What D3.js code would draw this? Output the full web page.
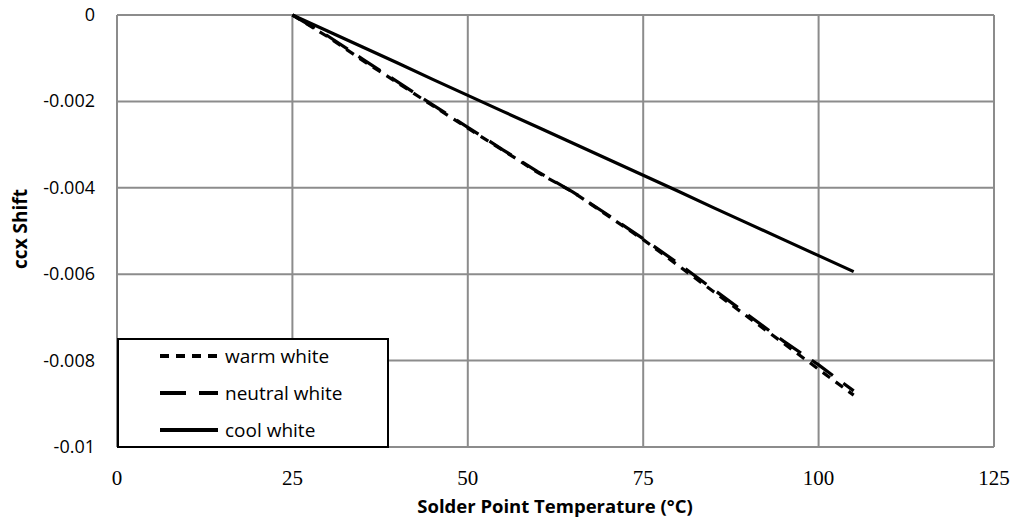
<!DOCTYPE html>
<html>
<head>
<meta charset="utf-8">
<script src="https://cdn.jsdelivr.net/npm/d3@7"></script>
<style>
  body { margin: 0; background: #fff; }
  svg { display: block; }
</style>
</head>
<body>
<div id="chart"></div>
<script>
// values
var temps = [25, 30, 35, 40, 45, 50, 55, 60, 65, 70, 75, 80, 85, 90, 95, 100, 105];
var warmWhite = [0, -0.0005, -0.00105, -0.00157, -0.0021, -0.00262, -0.00313, -0.00365, -0.0041, -0.00465, -0.0052, -0.0058, -0.0064, -0.007, -0.0076, -0.0082, -0.0088];
var neutralWhite = [0, -0.00048, -0.00102, -0.00155, -0.00208, -0.0026, -0.00312, -0.00363, -0.0041, -0.00463, -0.00518, -0.00575, -0.00635, -0.00695, -0.00755, -0.0081, -0.0087];
var coolWhite = [0, -0.00037, -0.00074, -0.00111, -0.00149, -0.00186, -0.00223, -0.0026, -0.00297, -0.00334, -0.00371, -0.00408, -0.00446, -0.00483, -0.0052, -0.00557, -0.00594];
var xTicks = [0, 25, 50, 75, 100, 125];
var yTicks = [0, -0.002, -0.004, -0.006, -0.008, -0.01];
var yTickLabels = ["0", "-0.002", "-0.004", "-0.006", "-0.008", "-0.01"];
var seriesNames = ["warm white", "neutral white", "cool white"];
var seriesDash = ["9,7", "26,13", null];

var width = 1014, height = 525;
var margin = {left: 117, right: 20, top: 15, bottom: 78};

var svg = d3.select("#chart").append("svg")
    .attr("width", width)
    .attr("height", height);

var x = d3.scaleLinear().domain([0, 125]).range([margin.left, width - margin.right]);
var y = d3.scaleLinear().domain([-0.01, 0]).range([height - margin.bottom, margin.top]);

// grid
svg.append("g").selectAll("line")
    .data(xTicks).enter().append("line")
    .attr("x1", function(d){ return x(d); })
    .attr("x2", function(d){ return x(d); })
    .attr("y1", y(0)).attr("y2", y(-0.01))
    .attr("stroke", "#8c8c8c").attr("stroke-width", 2);

svg.append("g").selectAll("line")
    .data(yTicks).enter().append("line")
    .attr("y1", function(d){ return y(d); })
    .attr("y2", function(d){ return y(d); })
    .attr("x1", x(0)).attr("x2", x(125))
    .attr("stroke", "#8c8c8c").attr("stroke-width", 2);

// tick labels
svg.append("g").selectAll("text")
    .data(yTicks).enter().append("text")
    .attr("x", 95)
    .attr("y", function(d){ return y(d) + 6; })
    .attr("text-anchor", "end")
    .style("font-family", "'Open Sans', sans-serif")
    .style("font-size", "18px")
    .attr("fill", "#000")
    .text(function(d, i){ return yTickLabels[i]; });

svg.append("g").selectAll("text")
    .data(xTicks).enter().append("text")
    .attr("x", function(d){ return x(d); })
    .attr("y", 485)
    .attr("text-anchor", "middle")
    .style("font-family", "'Liberation Serif', serif")
    .style("font-size", "21px")
    .attr("fill", "#000")
    .text(function(d){ return d; });

// axis titles
svg.append("text")
    .attr("x", 555).attr("y", 513)
    .attr("text-anchor", "middle")
    .style("font-family", "'Open Sans', sans-serif")
    .style("font-size", "18.5px")
    .style("font-weight", "bold")
    .text("Solder Point Temperature (°C)");

svg.append("text")
    .attr("transform", "translate(27," + 229 + ") rotate(-90)")
    .attr("text-anchor", "middle")
    .style("font-family", "'Open Sans', sans-serif")
    .style("font-size", "19px")
    .style("font-weight", "bold")
    .text("ccx Shift");

// lines
var allSeries = [warmWhite, neutralWhite, coolWhite];
var line = d3.line()
    .x(function(d, i){ return x(temps[i]); })
    .y(function(d){ return y(d); });

svg.append("g").selectAll("path")
    .data(allSeries).enter().append("path")
    .attr("d", function(d){ return line(d); })
    .attr("fill", "none")
    .attr("stroke", "#000")
    .attr("stroke-width", 3.2)
    .attr("stroke-dasharray", function(d, i){ return seriesDash[i]; });

// legend
var legend = svg.append("g");
legend.append("rect")
    .attr("x", 118).attr("y", 339)
    .attr("width", 270).attr("height", 108)
    .attr("fill", "#fff")
    .attr("stroke", "#000")
    .attr("stroke-width", 2);

var rows = legend.selectAll("g")
    .data(seriesNames).enter().append("g")
    .attr("transform", function(d, i){ return "translate(0," + (356 + i * 37) + ")"; });

rows.append("line")
    .attr("x1", 160).attr("x2", 218)
    .attr("y1", 0).attr("y2", 0)
    .attr("stroke", "#000")
    .attr("stroke-width", 4)
    .attr("stroke-dasharray", function(d, i){ return seriesDash[i]; });

rows.append("text")
    .attr("x", 225).attr("y", 7)
    .style("font-family", "'Open Sans', sans-serif")
    .style("font-size", "19px")
    .text(function(d){ return d; });
</script>
</body>
</html>
